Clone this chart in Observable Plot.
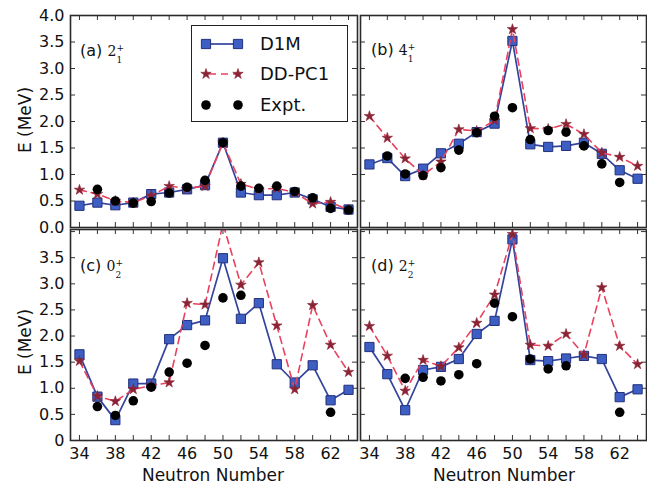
<!DOCTYPE html>
<html><head><meta charset="utf-8">
<script src="https://cdn.jsdelivr.net/npm/d3@7"></script>
<script src="https://cdn.jsdelivr.net/npm/@observablehq/plot@0.6"></script>
<style>
body{margin:0;background:#fff;}
#wrap{position:relative;width:647px;height:487px;font-family:"DejaVu Sans",sans-serif;color:#111;overflow:hidden;}
.pan{position:absolute;}
.lab{position:absolute;font-size:16px;line-height:20px;white-space:nowrap;}
.st{position:relative;font-family:"DejaVu Serif",serif;font-size:14px;}
.st .sb{position:absolute;left:9px;top:7px;font-size:9px;}
.st .sp{position:absolute;left:9px;top:-5px;font-size:9px;}
.axl{position:absolute;font-size:17px;white-space:nowrap;transform:translate(-50%,-50%);}
.axl.rot{transform:translate(-50%,-50%) rotate(-90deg);}
#legend{position:absolute;left:191px;top:25px;width:155px;height:95px;border:1.6px solid #222;background:#fff;}
#legend .row{position:absolute;left:0;height:24px;width:155px;}
#legend .row svg{position:absolute;left:0;top:0;}
#legend .row span{position:absolute;left:68px;top:0;font-size:18px;line-height:24px;}
</style></head><body>
<div id="wrap"></div>
<script>
// ---- data ----
const neutrons = [34,36,38,40,42,44,46,48,50,52,54,56,58,60,62,64];
const xTickLabels = [34,38,42,46,50,54,58,62];
const yTicksTop = [0,0.5,1,1.5,2,2.5,3,3.5,4];
const yTicksBottomLabels = [0,0.5,1,1.5,2,2.5,3,3.5];
const seriesNames = ["D1M","DD-PC1","Expt."];
const panelLabels = ["(a)","(b)","(c)","(d)"];
const stateBase = ["2","4","0","2"];
const stateSub = ["1","1","2","2"];

// (a) 2_1+
const a_D1M   = [0.41,0.47,0.42,0.47,0.63,0.66,0.72,0.80,1.60,0.66,0.61,0.61,0.66,0.53,0.39,0.34];
const a_DDPC1 = [0.71,0.63,0.50,0.47,0.60,0.78,0.74,0.78,1.60,0.82,0.72,0.74,0.66,0.45,0.48,0.33];
const a_Expt  = [null,0.72,0.50,0.46,0.49,0.65,0.76,0.89,1.60,0.78,0.74,0.78,0.68,0.56,0.36,0.33];
// (b) 4_1+
const b_D1M   = [1.19,1.31,0.97,1.11,1.40,1.58,1.80,1.96,3.52,1.57,1.52,1.54,1.60,1.39,1.08,0.92];
const b_DDPC1 = [2.10,1.69,1.30,0.99,1.24,1.85,1.82,2.02,3.74,1.87,1.86,1.95,1.76,1.41,1.33,1.16];
const b_Expt  = [null,1.35,1.01,0.98,1.13,1.46,1.79,2.10,2.26,1.66,1.83,1.80,1.54,1.20,0.85,null];
// (c) 0_2+
const c_D1M   = [1.65,0.84,0.39,1.09,1.09,1.94,2.21,2.30,3.49,2.33,2.63,1.46,1.11,1.44,0.77,0.97];
const c_DDPC1 = [1.52,0.85,0.75,0.98,1.05,1.11,2.63,2.60,4.15,2.98,3.41,2.20,0.98,2.59,1.83,1.31];
const c_Expt  = [null,0.65,0.48,0.76,1.02,1.31,1.48,1.82,2.73,2.78,null,null,null,null,0.54,null];
// (d) 2_2+
const d_D1M   = [1.79,1.27,0.58,1.35,1.41,1.56,2.04,2.29,3.85,1.54,1.52,1.57,1.62,1.56,0.83,0.98];
const d_DDPC1 = [2.19,1.62,0.95,1.54,1.42,1.78,2.25,2.79,3.95,1.83,1.81,2.04,1.64,2.93,1.81,1.46];
const d_Expt  = [null,null,1.19,1.21,1.14,1.26,1.47,2.63,2.37,1.56,1.37,1.43,null,null,0.54,null];

// ---- style ----
const C = {
  d1mLine:"#34449c", d1mFill:"#3d5ec2", d1mEdge:"#24307c",
  ddLine:"#e8425f", ddStar:"#8a2434",
  expt:"#000", frame:"#2a2a2a", tick:"#333"
};
const xDomain = [33,65];

const wrap = document.getElementById("wrap");

function panel(cfg){
  const rows = neutrons.map((n,i)=>({n, d1m:cfg.d1m[i], dd:cfg.dd[i], ex:cfg.ex[i]}));
  const fw = cfg.width - cfg.mL - cfg.mR, fh = cfg.height - cfg.mT - cfg.mB;
  const tl = 5;
  const marks = [
    Plot.tickX(neutrons,{x:d=>d, insetTop:fh-tl, stroke:C.tick, strokeWidth:1}),
    Plot.tickX(neutrons,{x:d=>d, insetBottom:fh-tl, stroke:C.tick, strokeWidth:1}),
    Plot.tickY(yTicksTop,{y:d=>d, insetRight:fw-tl, stroke:C.tick, strokeWidth:1}),
    Plot.tickY(yTicksTop,{y:d=>d, insetLeft:fw-tl, stroke:C.tick, strokeWidth:1}),
    Plot.line(rows,{x:"n", y:"d1m", stroke:C.d1mLine, strokeWidth:1.7, clip:true}),
    Plot.dot(rows,{x:"n", y:"d1m", symbol:"square", r:5.2, fill:C.d1mFill, stroke:C.d1mEdge, strokeWidth:1, clip:true}),
    Plot.line(rows,{x:"n", y:"dd", stroke:C.ddLine, strokeWidth:1.6, strokeDasharray:"7,5", clip:true}),
    Plot.dot(rows,{x:"n", y:"dd", symbol:"star", r:3.3, fill:C.ddStar, stroke:C.ddStar, strokeWidth:0.6, clip:true}),
    Plot.dot(rows,{x:"n", y:"ex", symbol:"circle", r:4.8, fill:C.expt, clip:true}),
    Plot.frame({stroke:C.frame, strokeWidth:1.6})
  ];
  if(cfg.yLabels){
    marks.push(Plot.axisY({ticks:cfg.yLabels, tickSize:0, tickPadding:6, fontSize:16, label:null,
      tickFormat: cfg.yFormat}));
  }
  if(cfg.xLabels){
    marks.push(Plot.axisX({ticks:cfg.xLabels, tickSize:0, tickPadding:7, fontSize:16, label:null}));
  }
  const p = Plot.plot({
    width:cfg.width, height:cfg.height,
    marginLeft:cfg.mL, marginRight:cfg.mR, marginTop:cfg.mT, marginBottom:cfg.mB,
    style:{fontFamily:"DejaVu Sans, sans-serif", fontSize:"16px", color:"#111", background:"transparent", overflow:"visible"},
    x:{domain:xDomain, ...(cfg.xLabels?{}:{axis:null})},
    y:{domain:cfg.yDomain, ...(cfg.yLabels?{}:{axis:null})},
    marks
  });
  const d = document.createElement("div");
  d.className = "pan";
  d.style.left = cfg.left+"px"; d.style.top = cfg.top+"px";
  d.appendChild(p);
  wrap.appendChild(d);
}

const fmtTop = d3.format(".1f");
const fmtBottom = v => v===0 ? "0" : d3.format(".1f")(v);

panel({d1m:a_D1M, dd:a_DDPC1, ex:a_Expt, left:0, top:0, width:360, height:228, mL:70, mR:3, mT:15, mB:1,
  yDomain:[0,4], yLabels:yTicksTop, yFormat:fmtTop});
panel({d1m:b_D1M, dd:b_DDPC1, ex:b_Expt, left:357, top:0, width:290, height:228, mL:3, mR:1, mT:15, mB:1,
  yDomain:[0,4]});
panel({d1m:c_D1M, dd:c_DDPC1, ex:c_Expt, left:0, top:228, width:360, height:259, mL:70, mR:3, mT:1, mB:47,
  yDomain:[0,4.04], yLabels:yTicksBottomLabels, yFormat:fmtBottom, xLabels:xTickLabels});
panel({d1m:d_D1M, dd:d_DDPC1, ex:d_Expt, left:357, top:228, width:290, height:259, mL:3, mR:1, mT:1, mB:47,
  yDomain:[0,4.04], xLabels:xTickLabels});

// panel labels
const labPos = [[80,41],[371,40],[80,256],[371,256]];
panelLabels.forEach((t,i)=>{
  const d = document.createElement("div");
  d.className="lab";
  d.style.left=labPos[i][0]+"px"; d.style.top=labPos[i][1]+"px";
  d.innerHTML = t+' <span class="st">'+stateBase[i]+'<span class="sb">'+stateSub[i]+'</span><span class="sp">+</span></span>';
  wrap.appendChild(d);
});

// axis titles
[[25,120],[25,342]].forEach(([x,y])=>{
  const d=document.createElement("div"); d.className="axl rot";
  d.style.left=x+"px"; d.style.top=y+"px"; d.textContent="E (MeV)"; wrap.appendChild(d);
});
[[213,475],[504,475]].forEach(([x,y])=>{
  const d=document.createElement("div"); d.className="axl";
  d.style.left=x+"px"; d.style.top=y+"px"; d.textContent="Neutron Number"; wrap.appendChild(d);
});

// legend
const lg = document.createElement("div"); lg.id="legend"; wrap.appendChild(lg);
const sq = d3.symbol(d3.symbolSquare, 85)();
const st = d3.symbol(d3.symbolStar, 34)();
const ci = d3.symbol(d3.symbolCircle, 72)();
const rowsLg = [
  {name:seriesNames[0], top:6, line:`<line x1="14" x2="46" y1="12" y2="12" stroke="${C.d1mLine}" stroke-width="1.7"/>`,
   sym:(x)=>`<path d="${sq}" transform="translate(${x},12)" fill="${C.d1mFill}" stroke="${C.d1mEdge}"/>`},
  {name:seriesNames[1], top:36, line:`<line x1="14" x2="46" y1="12" y2="12" stroke="${C.ddLine}" stroke-width="1.6" stroke-dasharray="7,5" stroke-dashoffset="-3"/>`,
   sym:(x)=>`<path d="${st}" transform="translate(${x},12)" fill="${C.ddStar}" stroke="${C.ddStar}" stroke-width="0.6"/>`},
  {name:seriesNames[2], top:67, line:"",
   sym:(x)=>`<path d="${ci}" transform="translate(${x},12)" fill="#000"/>`}
];
rowsLg.forEach(r=>{
  const d=document.createElement("div"); d.className="row"; d.style.top=r.top+"px";
  d.innerHTML = `<svg width="60" height="24">${r.line}${r.sym(14)}${r.sym(46)}</svg><span>${r.name}</span>`;
  lg.appendChild(d);
});
</script>
</body></html>
